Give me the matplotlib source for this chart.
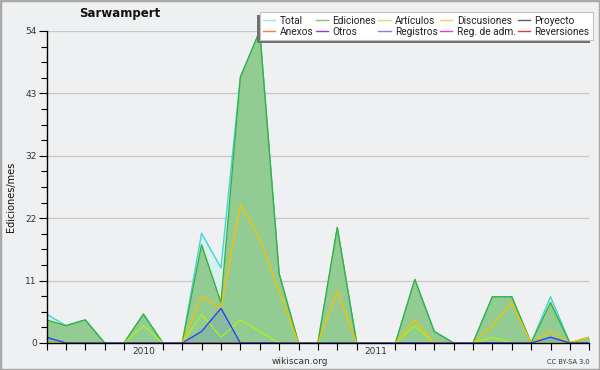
import matplotlib
matplotlib.use('Agg')
import matplotlib.pyplot as plt
from matplotlib.patches import Rectangle
from matplotlib.lines import Line2D
from matplotlib.font_manager import FontProperties

# Months Aug 2009 .. Dec 2011 (index positions)
months = list(range(29))
year_pos = [5, 17]
year_labels = ['2010', '2011']

total       = [5, 3, 4, 0, 0, 5, 0, 0, 19, 13, 46, 54, 12, 0, 0, 20, 0, 0, 0, 11, 2, 0, 0, 8, 8, 0, 8, 0, 1]
ediciones   = [4, 3, 4, 0, 0, 5, 0, 0, 17, 7, 46, 54, 12, 0, 0, 20, 0, 0, 0, 11, 2, 0, 0, 8, 8, 0, 7, 0, 1]
articulos   = [0, 0, 0, 0, 0, 3, 0, 0, 5, 1, 4, 2, 0, 0, 0, 0, 0, 0, 0, 3, 0, 0, 0, 1, 0, 0, 0, 0, 0]
discusiones = [0, 0, 0, 0, 0, 0, 0, 0, 8, 6, 24, 18, 9, 0, 0, 9, 0, 0, 0, 4, 0, 0, 0, 3, 7, 0, 2, 0, 1]
registros   = [1, 0, 0, 0, 0, 0, 0, 0, 2, 6, 0, 0, 0, 0, 0, 0, 0, 0, 0, 0, 0, 0, 0, 0, 0, 0, 1, 0, 0]
zeros       = [0] * 29

y_ticks = [0, 10.8, 21.6, 32.4, 43.2, 54]
y_tick_labels = ['0', '11', '22', '32', '43', '54']

legend_names = ['Total', 'Ediciones', 'Artículos', 'Discusiones', 'Proyecto',
                'Anexos', 'Otros', 'Registros', 'Reg. de adm.', 'Reversiones']
legend_colors = ['#a6e2de', '#7cc67c', '#c4ee5a', '#f6cf5a', '#606060',
                 '#f08448', '#8a3ee0', '#7e82f0', '#d046e0', '#e23a3a']

BG = '#eff0f1'
fig = plt.figure(figsize=(6, 3.7), dpi=100, facecolor=BG)
ax = fig.add_axes([46.5/600, 27/370, 542.8/600, 312/370])
ax.set_facecolor(BG)

# fills
ax.fill_between(months, total, 0, color='#d6f2ee', lw=0, zorder=1)
ax.fill_between(months, ediciones, 0, color='#93cc93', lw=0, zorder=1.1)
ax.fill_between(months, registros, 0, color='#4060f0', alpha=0.15, lw=0, zorder=1.2)

# lines
ax.plot(months, total, color='#3ed6d6', lw=1.0, zorder=2)
ax.plot(months, ediciones, color='#3cb03c', lw=1.0, zorder=2.1)
for idx in (4, 5, 6, 8, 9):
    ax.plot(months, zeros, color=legend_colors[idx], lw=1.0, zorder=1.5)
ax.plot(months, articulos, color='#a8f020', lw=1.0, zorder=2.2)
ax.plot(months, discusiones, color='#f2c200', lw=1.0, zorder=2.3)
ax.plot(months, registros, color='#3040f0', lw=1.0, zorder=2.4)

ax.set_xlim(0, 28)
ax.set_ylim(0, 54)

# grid
for yv in y_ticks[1:]:
    ax.axhline(yv, color='#c8c8c8', lw=0.9, zorder=0.5)

# spines
for s in ['top', 'right']:
    ax.spines[s].set_visible(False)
ax.spines['left'].set_linewidth(1.0)
ax.spines['bottom'].set_linewidth(1.0)

ax.set_yticks(y_ticks)
ax.set_yticklabels(y_tick_labels)
minor_y = [y_ticks[i] + k * 2.7 for i in range(5) for k in (1, 2, 3)]
ax.set_yticks(minor_y, minor=True)
ax.tick_params(axis='y', which='major', direction='out', length=6, width=0.8,
               labelsize=6.5, labelcolor='#333333', pad=1)
ax.tick_params(axis='y', which='minor', direction='out', length=4, width=0.8)

month_ticks = [m for m in months if m not in year_pos]
ax.set_xticks(month_ticks)
ax.set_xticklabels([''] * len(month_ticks))
ax.tick_params(axis='x', which='major', direction='out', length=5, width=0.8)
ax.set_xticks(year_pos, minor=True)
ax.set_xticklabels(year_labels, minor=True)
ax.tick_params(axis='x', which='minor', length=0, labelsize=6.5,
               labelcolor='#333333', pad=3)

fig.text(11/600, 1 - 197/370, 'Ediciones/mes', rotation=90, ha='center',
         va='center', fontsize=7, color='#111111')
fig.text(120/600, 1 - 14/370, 'Sarwampert', ha='center', va='center',
         fontsize=8.5, fontweight='bold', color='#111111')
fig.text(300/600, 1 - 362/370, 'wikiscan.org', ha='center', va='center',
         fontsize=6.5, color='#333333')
fig.text(590/600, 1 - 362/370, 'CC BY-SA 3.0', ha='right', va='center',
         fontsize=4.8, color='#333333')

# legend (column-major ordering for 2 rows x 5 columns)
order = [0, 5, 1, 6, 2, 7, 3, 8, 4, 9]
handles = [Line2D([], [], color=legend_colors[i], lw=1.0) for i in order]
labels = [legend_names[i] for i in order]
leg = fig.legend(handles, labels, loc='upper right',
                 bbox_to_anchor=(593/600, 1 - 12/370), borderaxespad=0,
                 ncol=5, prop=FontProperties(family='Roboto', size=7.3),
                 handlelength=1.2, handletextpad=0.45,
                 columnspacing=0.2, labelspacing=0.12, borderpad=0.35,
                 fancybox=False, framealpha=1, edgecolor='#c4c4c4',
                 facecolor='white')
leg.get_frame().set_linewidth(0.8)
for t in leg.get_texts():
    t.set_color('#222222')

fig.canvas.draw()
bb = leg.get_window_extent()
inv = fig.transFigure.inverted()
(x0, y0) = inv.transform((bb.x0 - 3, bb.y0 - 3))
(x1, y1) = inv.transform((bb.x1 - 3, bb.y1 - 3))
fig.add_artist(Rectangle((x0, y0), x1 - x0, y1 - y0, transform=fig.transFigure,
                         facecolor='#707070', edgecolor='none', zorder=4.5))

fig.add_artist(Rectangle((0, 0), 1, 1, transform=fig.transFigure, fill=False,
                         edgecolor='#a8a8a8', lw=2.5, zorder=10))

fig.savefig('out.png', dpi=100, facecolor=BG)
